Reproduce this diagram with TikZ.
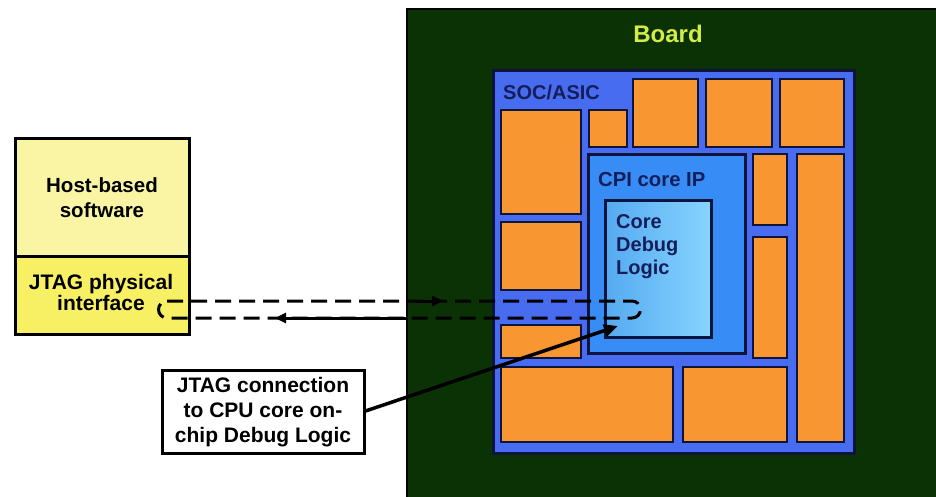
\documentclass[tikz,border=0pt]{standalone}
\usepackage{fontspec}
\setmainfont{Liberation Sans}
\usetikzlibrary{arrows.meta}
\definecolor{boardc}{RGB}{10,50,4}
\definecolor{socc}{RGB}{72,108,240}
\definecolor{orangec}{RGB}{248,150,50}
\definecolor{cpic}{RGB}{55,140,245}
\definecolor{dbgl}{RGB}{85,170,240}
\definecolor{dbgr}{RGB}{135,212,255}
\definecolor{navy}{RGB}{15,20,60}
\definecolor{yelA}{RGB}{250,245,165}
\definecolor{yelB}{RGB}{248,240,100}
\definecolor{boardtxt}{RGB}{212,236,70}
\definecolor{navytxt}{RGB}{20,30,90}
\newcommand\rbox[6]{\node[#1,anchor=north west,minimum width={(#5-#3)*1pt},minimum height={(#6-#4)*1pt}] (#2) at (#3,#4) {};}
\tikzset{
  base/.style={inner sep=0pt,outer sep=0pt,rectangle},
  boardbox/.style={base,fill=boardc,draw=black,line width=1.5pt},
  socbox/.style={base,fill=socc,draw=navy,line width=3pt},
  orbox/.style={base,fill=orangec,draw=navy,line width=2.5pt},
  cpibox/.style={base,fill=cpic,draw=navy,line width=3pt},
  dbgbox/.style={base,left color=dbgl,right color=dbgr,draw=navy,line width=3pt},
  hostbox/.style={base,fill=yelA,draw=black,line width=3pt},
  jtagbox/.style={base,fill=yelB,draw=black,line width=3pt},
  notebox/.style={base,fill=white,draw=black,line width=3pt},
  lbl/.style={font=\bfseries\fontsize{20}{25}\selectfont,inner sep=0pt},
  jtagdash/.style={line width=3pt,dash pattern=on 16pt off 8pt,black},
  arrowseg/.style={line width=3pt,-{Triangle[length=11pt,width=10pt]}},
}
\begin{document}
\begin{tikzpicture}[x=1pt,y=-1pt]
\useasboundingbox (0,0) rectangle (936,496);
\fill[white] (0,0) rectangle (936,496);
% board
\rbox{boardbox}{board}{407}{9}{945}{505}
\node[lbl,text=boardtxt,font=\bfseries\fontsize{24}{28}\selectfont] (boardlbl) at (668,34) {Board};
% SOC
\rbox{socbox}{soc}{493}{70}{854}{453}
\node[lbl,text=navytxt,anchor=west] (soclbl) at (503,92) {SOC/ASIC};
% orange blocks
\rbox{orbox}{oa}{633}{79}{698}{147}
\rbox{orbox}{ob}{706}{79}{772}{147}
\rbox{orbox}{oc}{780}{79}{844}{147}
\rbox{orbox}{ol1}{501}{110}{581}{214}
\rbox{orbox}{os}{589}{110}{627}{147}
\rbox{orbox}{oru}{753}{154}{787}{225}
\rbox{orbox}{ort}{797}{154}{844}{442}
\rbox{orbox}{orl}{753}{237}{787}{358}
\rbox{orbox}{ol2}{501}{222}{581}{290}
\rbox{orbox}{ol3}{501}{325}{581}{358}
\rbox{orbox}{obl}{501}{367}{673}{442}
\rbox{orbox}{obr}{683}{367}{787}{442}
% CPI core
\rbox{cpibox}{cpi}{588}{154}{745}{353}
\node[lbl,text=navytxt,anchor=west,font=\bfseries\fontsize{20.3}{25}\selectfont] (cpilbl) at (598,180) {CPI core IP};
\rbox{dbgbox}{dbg}{605}{200}{711}{337}
\node[lbl,text=navytxt,anchor=west,align=left,font=\bfseries\fontsize{20}{23}\selectfont] (dbglbl) at (616,247) {Core\\Debug\\Logic};
% host
\rbox{hostbox}{host}{15}{138}{189}{256}
\node[lbl,align=center,font=\bfseries\fontsize{20.5}{25}\selectfont] (hostlbl) at (102,198) {Host-based\\software};
\rbox{jtagbox}{jtag}{15}{256}{189}{334}
\node[lbl,align=center,font=\bfseries\fontsize{21}{21}\selectfont] (jtaglbl) at (101,292) {JTAG physical\\interface};
% note
\rbox{notebox}{note}{162}{370}{364}{453}
\node[lbl,align=center,font=\bfseries\fontsize{21}{25}\selectfont] (notelbl) at (263,412) {JTAG connection\\to CPU core on-\\chip Debug Logic};
% dashed loop
\coordinate (lt) at (167,301);
\coordinate (rt) at (632,301);
\coordinate (rb) at (632,318);
\coordinate (lb) at (167,318);
\draw[jtagdash] (lt) -- (rt) arc[start angle=-90,end angle=90,radius=8.5] -- (lb) arc[start angle=90,end angle=270,radius=8.5];
\coordinate (a1s) at (415,301);
\coordinate (a1e) at (443,301);
\draw[arrowseg] (a1s) -- (a1e);
\coordinate (a2s) at (408,318);
\coordinate (a2e) at (275,318);
\draw[arrowseg] (a2s) -- (a2e);
% arrow to debug logic
\coordinate (tip) at (618,326);
\draw[line width=3.5pt,-{Triangle[length=14pt,width=12pt]}] (note.east) -- (tip);
\end{tikzpicture}
\end{document}
